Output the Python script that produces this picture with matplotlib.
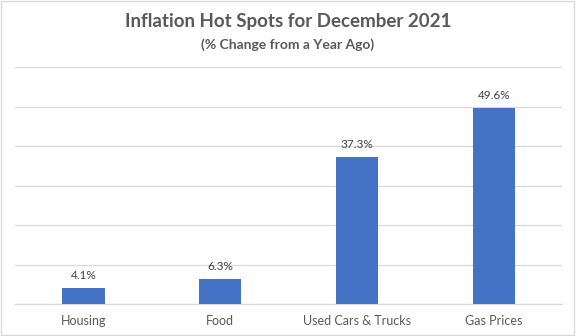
import matplotlib
matplotlib.use("Agg")
import matplotlib.pyplot as plt
import numpy as np

plt.rcParams['font.family'] = ['Lato', 'DejaVu Sans']

categories = ["Housing", "Food", "Used Cars & Trucks", "Gas Prices"]
pct_change = [4.1, 6.3, 37.3, 49.6]
value_labels = ["4.1%", "6.3%", "37.3%", "49.6%"]

title = "Inflation Hot Spots for December 2021"
subtitle = "(% Change from a Year Ago)"

bar_color = "#4472C4"
grid_color = "#d9d9d9"
text_color = "#595959"


def main():
    fig = plt.figure(figsize=(5.76, 3.36), dpi=100)
    ax = fig.add_axes([0.026, 0.095, 0.95, 0.705])

    x = np.arange(len(categories))
    bars = ax.bar(x, pct_change, width=0.31, color=bar_color, zorder=3)

    # data labels above each bar
    for bar, lab in zip(bars, value_labels):
        ax.annotate(lab, (bar.get_x() + bar.get_width() / 2, bar.get_height()),
                    xytext=(0, 5), textcoords="offset points",
                    ha="center", va="bottom", fontsize=8.5, color="#404040")

    ax.set_xlim(-0.5, len(categories) - 0.5)
    ax.set_ylim(0, 60)
    ax.set_yticks(np.arange(0, 61, 10))
    ax.set_yticklabels([])
    ax.tick_params(axis="y", length=0)
    ax.yaxis.grid(True, color=grid_color, linewidth=0.9, zorder=0)

    ax.set_xticks(x)
    ax.set_xticklabels(categories, fontsize=9, color=text_color)
    ax.tick_params(axis="x", length=0, pad=8)

    for side in ["top", "right", "left"]:
        ax.spines[side].set_visible(False)
    ax.spines["bottom"].set_color(grid_color)
    ax.spines["bottom"].set_linewidth(0.9)

    fig.text(0.5, 1 - 22 / 336, title, ha="center", va="center",
             fontsize=13.5, fontweight="bold", color=text_color)
    fig.text(0.5, 1 - 45 / 336, subtitle, ha="center", va="center",
             fontsize=10, fontweight="bold", color=text_color)

    # light chart border
    border = plt.Rectangle((0.002, 0.003), 0.995, 0.994, transform=fig.transFigure,
                           fill=False, edgecolor=grid_color, linewidth=1)
    fig.patches.append(border)

    fig.savefig("out.png", dpi=100, facecolor="white")


main()
